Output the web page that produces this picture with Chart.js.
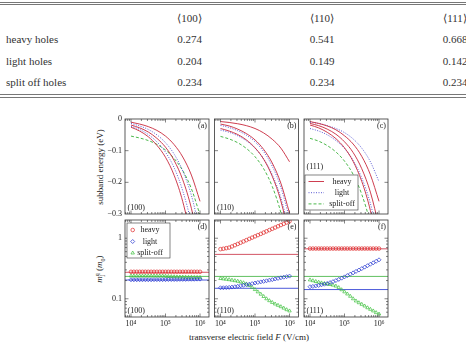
<!DOCTYPE html>
<html>
<head>
<meta charset="utf-8">
<script src="https://cdn.jsdelivr.net/npm/chart.js@4.4.1/dist/chart.umd.min.js"></script>
<style>
  html, body { margin: 0; padding: 0; background: #fff; }
  body { width: 466px; height: 344px; position: relative; overflow: hidden; font-family: "Liberation Serif", serif; color: #222; }
  canvas { position: absolute; left: 0; top: 0; }
  .rule { position: absolute; left: 0; width: 466px; height: 0; border-top: 1px solid #777; }
  .cell { position: absolute; font-size: 11px; line-height: 12px; white-space: nowrap; color: #333; }
  .mid { transform: translateX(-50%); }
  .ytitle { position: absolute; font-size: 9px; white-space: nowrap; transform: translate(-50%, -50%) rotate(-90deg); }
  .xtitle { position: absolute; font-size: 9px; white-space: nowrap; transform: translate(-50%, -50%); }
  .ss { display: inline-block; vertical-align: middle; line-height: 5px; font-size: 6px; text-align: left; }
</style>
</head>
<body>
<div id="table"></div>
<div class="ytitle" style="left:100px; top:166.5px">subband energy (eV)</div>
<div class="ytitle" style="left:100px; top:268.5px"><i>m</i><span class="ss">q<br>j</span> (<i>m</i><sub style="font-size:6px">0</sub>)</div>
<div class="xtitle" style="left:249px; top:337px">transverse electric field <i>F</i> (V/cm)</div>
<script>
// table values (effective masses)
const orientations = ['\u27E8100\u27E9', '\u27E8110\u27E9', '\u27E8111\u27E9'];
const holeTypes = ['heavy holes', 'light holes', 'split off holes'];
const massHeavy = [0.274, 0.541, 0.668];
const massLight = [0.204, 0.149, 0.142];
const massSplit = [0.234, 0.234, 0.234];

// field values (V/cm)
const fieldLine = [1e4, 1.78e4, 3.16e4, 5.62e4, 1e5, 1.78e5, 3.16e5, 5.62e5, 1e6];
const fieldMark = [1.00e4, 1.21e4, 1.47e4, 1.78e4, 2.15e4, 2.61e4, 3.16e4, 3.83e4, 4.64e4, 5.62e4, 6.81e4, 8.25e4,
                   1.00e5, 1.21e5, 1.47e5, 1.78e5, 2.15e5, 2.61e5, 3.16e5, 3.83e5, 4.64e5, 5.62e5, 6.81e5, 8.25e5, 1.00e6];

// subband energies (eV)
const heavy100 = [
  [-0.010, -0.016, -0.024, -0.036, -0.054, -0.081, -0.120, -0.177, -0.260],
  [-0.019, -0.028, -0.041, -0.061, -0.089, -0.131, -0.192, -0.282, -0.414],
  [-0.026, -0.038, -0.056, -0.083, -0.121, -0.178, -0.261, -0.384, -0.563]
];
const light100 = [
  [-0.014, -0.022, -0.033, -0.050, -0.075, -0.111, -0.164, -0.241, -0.355],
  [-0.023, -0.033, -0.049, -0.072, -0.105, -0.154, -0.227, -0.332, -0.488]
];
const split100 = [-0.054, -0.060, -0.068, -0.080, -0.098, -0.125, -0.163, -0.220, -0.303];

const heavy110 = [
  [-0.008, -0.011, -0.015, -0.021, -0.030, -0.044, -0.064, -0.092, -0.135],
  [-0.016, -0.022, -0.032, -0.046, -0.066, -0.096, -0.139, -0.203, -0.297],
  [-0.030, -0.038, -0.049, -0.066, -0.091, -0.127, -0.181, -0.259, -0.374]
];
const light110 = [
  [-0.020, -0.027, -0.037, -0.051, -0.072, -0.103, -0.149, -0.216, -0.314],
  [-0.035, -0.042, -0.053, -0.069, -0.092, -0.126, -0.176, -0.249, -0.356]
];
const split110 = [-0.055, -0.063, -0.075, -0.093, -0.119, -0.157, -0.213, -0.296, -0.417];

const heavy111 = [
  [-0.008, -0.014, -0.022, -0.034, -0.053, -0.079, -0.118, -0.176, -0.260],
  [-0.014, -0.021, -0.032, -0.048, -0.072, -0.106, -0.157, -0.231, -0.339],
  [-0.019, -0.028, -0.042, -0.062, -0.091, -0.134, -0.197, -0.289, -0.424]
];
const light111 = [
  [-0.010, -0.014, -0.021, -0.030, -0.043, -0.063, -0.092, -0.135, -0.198],
  [-0.030, -0.038, -0.050, -0.068, -0.093, -0.131, -0.186, -0.267, -0.386]
];
const split111 = [-0.061, -0.070, -0.084, -0.104, -0.133, -0.175, -0.238, -0.330, -0.464];

// field dependent masses (m0)
const mHeavy100 = [0.279, 0.279, 0.279, 0.279, 0.279, 0.279, 0.279, 0.279, 0.279, 0.279, 0.279, 0.279, 0.279,
                   0.279, 0.279, 0.279, 0.279, 0.279, 0.279, 0.279, 0.279, 0.279, 0.279, 0.279, 0.279];
const mLight100 = [0.206, 0.206, 0.206, 0.206, 0.206, 0.206, 0.206, 0.206, 0.207, 0.207, 0.207, 0.207, 0.207,
                   0.208, 0.208, 0.208, 0.208, 0.209, 0.209, 0.209, 0.210, 0.210, 0.210, 0.211, 0.211];
const mSplit100 = [0.238, 0.238, 0.238, 0.238, 0.238, 0.238, 0.238, 0.238, 0.238, 0.238, 0.238, 0.238, 0.236,
                   0.234, 0.232, 0.231, 0.230, 0.229, 0.228, 0.227, 0.226, 0.226, 0.225, 0.225, 0.225];

const mHeavy110 = [0.66, 0.67, 0.685, 0.70, 0.731, 0.767, 0.804, 0.844, 0.885, 0.929, 0.975, 1.023, 1.073,
                   1.125, 1.18, 1.239, 1.30, 1.364, 1.43, 1.50, 1.575, 1.65, 1.73, 1.82, 1.91];
const mLight110 = [0.152, 0.152, 0.153, 0.154, 0.156, 0.158, 0.161, 0.164, 0.167, 0.171, 0.174, 0.178, 0.182,
                   0.186, 0.190, 0.194, 0.198, 0.203, 0.207, 0.212, 0.217, 0.222, 0.227, 0.232, 0.237];
const mSplit110 = [0.216, 0.213, 0.210, 0.207, 0.203, 0.199, 0.195, 0.190, 0.184, 0.176, 0.166, 0.154, 0.142,
                   0.130, 0.119, 0.109, 0.100, 0.093, 0.087, 0.082, 0.078, 0.074, 0.070, 0.066, 0.063];

const mHeavy111 = [0.675, 0.675, 0.675, 0.675, 0.675, 0.675, 0.675, 0.675, 0.675, 0.675, 0.675, 0.675, 0.675,
                   0.675, 0.675, 0.675, 0.675, 0.675, 0.675, 0.675, 0.675, 0.675, 0.675, 0.675, 0.675];
const mLight111 = [0.158, 0.160, 0.163, 0.166, 0.170, 0.174, 0.179, 0.185, 0.192, 0.200, 0.209, 0.219, 0.230,
                   0.242, 0.255, 0.268, 0.283, 0.298, 0.315, 0.333, 0.352, 0.372, 0.393, 0.416, 0.440];
const mSplit111 = [0.205, 0.199, 0.193, 0.188, 0.183, 0.179, 0.175, 0.172, 0.168, 0.162, 0.153, 0.141, 0.130,
                   0.120, 0.110, 0.100, 0.092, 0.086, 0.081, 0.076, 0.071, 0.067, 0.063, 0.059, 0.056];

const panelTags = ['(a)', '(b)', '(c)', '(d)', '(e)', '(f)'];

// layout
const W = 466, H = 344;
const X_MIN = 6700, X_MAX = 1.82e6;
const COLS = [{l: 125, r: 209}, {l: 214.5, r: 298.5}, {l: 304, r: 388}];
const ROWS = [{t: 119, b: 214}, {t: 220, b: 317}];
const RED = '#c8283c', BLUE = '#4848d0', GREEN = '#38b038';
const MRED = '#e02828', MBLUE = '#2030d0', MGREEN = '#3cc03c';
const TXT = '#222';
const FONT = '"Liberation Serif", serif';

// table
function buildTable() {
  const t = document.getElementById('table');
  [1.5, 4, 94, 96.5].forEach(y => {
    const d = document.createElement('div');
    d.className = 'rule';
    d.style.top = y + 'px';
    t.appendChild(d);
  });
  const colX = [189.5, 322, 455];
  const rowY = [39.3, 61, 81.7];
  const put = (txt, x, y, center) => {
    const d = document.createElement('div');
    d.className = 'cell' + (center ? ' mid' : '');
    d.textContent = txt;
    d.style.left = x + 'px';
    d.style.top = (y - 6) + 'px';
    t.appendChild(d);
  };
  orientations.forEach((o, i) => put(o, colX[i], 18.3, true));
  const rows = [massHeavy, massLight, massSplit];
  holeTypes.forEach((h, r) => {
    put(h, 6, rowY[r], false);
    rows[r].forEach((v, i) => put(v.toFixed(3), colX[i], rowY[r], true));
  });
}
buildTable();

const isPow10 = v => Math.abs(Math.log10(v) - Math.round(Math.log10(v))) < 1e-6;
const SUP = {'-': '\u207B', '0': '\u2070', '1': '\u00B9', '2': '\u00B2', '3': '\u00B3', '4': '\u2074', '5': '\u2075', '6': '\u2076', '7': '\u2077', '8': '\u2078', '9': '\u2079'};

function logTicks(min, max) {
  const out = [];
  for (let e = Math.floor(Math.log10(min)); e <= Math.ceil(Math.log10(max)); e++) {
    for (let s = 1; s <= 9; s++) {
      const v = s * Math.pow(10, e);
      if (v > min && v < max) out.push({v, major: s === 1});
    }
  }
  return out;
}

// frame, inward ticks, tags and legends
const framePlugin = {
  id: 'frame',
  afterDraw(chart, args, o) {
    const {ctx, chartArea: a, scales} = chart;
    const xs = scales.x, ys = scales.y;
    ctx.save();
    ctx.strokeStyle = '#333';
    ctx.lineWidth = 0.6;
    ctx.beginPath();
    logTicks(xs.min, xs.max).forEach(t => {
      const p = xs.getPixelForValue(t.v);
      const len = t.major ? 3.5 : 2;
      ctx.moveTo(p, a.bottom); ctx.lineTo(p, a.bottom - len);
      ctx.moveTo(p, a.top); ctx.lineTo(p, a.top + len);
    });
    const yt = o.logY ? logTicks(ys.min, ys.max)
      : ys.ticks.map(t => ({v: t.value, major: true})).filter(t => t.v > ys.min + 1e-9 && t.v < ys.max - 1e-9);
    yt.forEach(t => {
      const p = ys.getPixelForValue(t.v);
      const len = t.major ? 3.5 : 2;
      ctx.moveTo(a.left, p); ctx.lineTo(a.left + len, p);
      ctx.moveTo(a.right, p); ctx.lineTo(a.right - len, p);
    });
    ctx.stroke();
    ctx.lineWidth = 0.8;
    ctx.strokeRect(a.left, a.top, a.right - a.left, a.bottom - a.top);

    ctx.fillStyle = TXT;
    ctx.font = '8px ' + FONT;
    ctx.textBaseline = 'middle';
    ctx.textAlign = 'right';
    ctx.fillText(o.tag, a.right - 2, a.top + 6.5);
    ctx.textAlign = 'left';
    ctx.fillText(o.plane, a.left + 2.5, o.planeY != null ? a.top + o.planeY : a.bottom - 6);

    if (o.lineLegend) {
      const bx = a.left + 1, by = a.bottom - 39, bw = 53, bh = 35;
      ctx.fillStyle = '#fff';
      ctx.fillRect(bx, by, bw, bh);
      ctx.strokeStyle = '#333';
      ctx.lineWidth = 0.6;
      ctx.strokeRect(bx, by, bw, bh);
      const items = [['heavy', RED, []], ['light', BLUE, [1, 1.5]], ['split-off', GREEN, [3, 2]]];
      items.forEach((it, i) => {
        const y = by + 6.5 + i * 11.2;
        ctx.strokeStyle = it[1];
        ctx.lineWidth = 0.9;
        ctx.setLineDash(it[2]);
        ctx.beginPath();
        ctx.moveTo(bx + 3.5, y); ctx.lineTo(bx + 19, y);
        ctx.stroke();
        ctx.setLineDash([]);
        ctx.fillStyle = TXT;
        ctx.textAlign = 'center';
        ctx.fillText(it[0], bx + 37, y);
      });
    }
    if (o.markLegend) {
      const bx = a.left + 2, by = a.top + 3, bw = 43, bh = 35;
      ctx.fillStyle = '#fff';
      ctx.fillRect(bx, by, bw, bh);
      ctx.strokeStyle = '#333';
      ctx.lineWidth = 0.6;
      ctx.strokeRect(bx, by, bw, bh);
      const items = [['heavy', MRED, 'circle', 1.8], ['light', MBLUE, 'rectRot', 2], ['split-off', MGREEN, 'triangle', 2]];
      items.forEach((it, i) => {
        const y = by + 7 + i * 11.5;
        ctx.strokeStyle = it[1];
        ctx.fillStyle = 'rgba(0,0,0,0)';
        ctx.lineWidth = 0.7;
        Chart.helpers.drawPoint(ctx, {pointStyle: it[2], radius: it[3], rotation: 0, borderWidth: 0.7}, bx + 5.7, y);
        ctx.fillStyle = TXT;
        ctx.textAlign = 'center';
        ctx.fillText(it[0], bx + 23, y);
      });
    }
    ctx.restore();
  }
};

function curveSets(heavy, light, split) {
  const pts = vals => fieldLine.map((f, i) => ({x: f, y: vals[i]}));
  const base = {showLine: true, pointRadius: 0, borderWidth: 0.9, cubicInterpolationMode: 'monotone', fill: false};
  const sets = [];
  heavy.forEach(v => sets.push(Object.assign({}, base, {data: pts(v), borderColor: RED})));
  light.forEach(v => sets.push(Object.assign({}, base, {data: pts(v), borderColor: BLUE, borderDash: [1, 1.5]})));
  sets.push(Object.assign({}, base, {data: pts(split), borderColor: GREEN, borderDash: [3, 2]}));
  return sets;
}

function massSets(k, mh, ml, ms) {
  const level = (m, c) => ({data: [{x: X_MIN, y: m}, {x: X_MAX, y: m}], showLine: true, pointRadius: 0,
                            borderColor: c, borderWidth: 0.8, order: 2});
  const marks = (vals, c, style, r) => ({data: fieldMark.map((f, i) => ({x: f, y: vals[i]})), showLine: false,
                            pointStyle: style, pointRadius: r, borderColor: c, backgroundColor: 'rgba(0,0,0,0)',
                            borderWidth: 0.7, order: 1});
  return [
    level(massHeavy[k], RED), level(massSplit[k], GREEN), level(massLight[k], MBLUE),
    marks(mh, MRED, 'circle', 1.8), marks(ml, MBLUE, 'rectRot', 2), marks(ms, MGREEN, 'triangle', 2)
  ];
}

function makePanel(col, row, datasets, extra) {
  const c = COLS[col], r = ROWS[row];
  const yW = col === 0 ? 25 : 0;
  const xH = row === 1 ? 15 : 0;
  const cv = document.createElement('canvas');
  cv.width = W; cv.height = H;
  document.body.appendChild(cv);
  const tickFont = {family: FONT, size: 8};
  const yScale = row === 0
    ? {type: 'linear', min: -0.3, max: 0, ticks: {stepSize: 0.1,
        callback: v => Math.abs(v) < 1e-9 ? '0' : '\u2212' + Math.abs(v).toFixed(1)}}
    : {type: 'logarithmic', min: 0.05, max: 2, ticks: {
        callback: v => (Math.abs(v - 1) < 1e-9 ? '1' : Math.abs(v - 0.1) < 1e-9 ? '0.1' : '')}};
  Object.assign(yScale.ticks, {display: col === 0, font: tickFont, color: TXT, padding: 3, autoSkip: false});
  Object.assign(yScale, {grid: {display: false, drawTicks: false}, border: {display: false},
                         afterFit: s => { s.width = yW; }});
  new Chart(cv, {
    type: 'scatter',
    data: {datasets},
    options: {
      responsive: false,
      animation: false,
      events: [],
      devicePixelRatio: 1,
      layout: {padding: {left: c.l - yW, top: r.t, right: W - c.r, bottom: H - r.b - xH}},
      scales: {
        x: {type: 'logarithmic', min: X_MIN, max: X_MAX,
            grid: {display: false, drawTicks: false}, border: {display: false},
            afterFit: s => { s.height = xH; },
            ticks: {display: row === 1, autoSkip: false, maxRotation: 0, padding: 2, font: tickFont, color: TXT,
                    callback: v => isPow10(v) ? '10' + String(Math.round(Math.log10(v))).split('').map(ch => SUP[ch]).join('') : ''}},
        y: yScale
      },
      plugins: {
        legend: {display: false},
        tooltip: {enabled: false},
        frame: Object.assign({tag: panelTags[row * 3 + col], logY: row === 1}, extra)
      }
    },
    plugins: [framePlugin]
  });
}

makePanel(0, 0, curveSets(heavy100, light100, split100), {plane: '(100)'});
makePanel(1, 0, curveSets(heavy110, light110, split110), {plane: '(110)'});
makePanel(2, 0, curveSets(heavy111, light111, split111), {plane: '(111)', planeY: 48, lineLegend: true});
makePanel(0, 1, massSets(0, mHeavy100, mLight100, mSplit100), {plane: '(100)', markLegend: true});
makePanel(1, 1, massSets(1, mHeavy110, mLight110, mSplit110), {plane: '(110)'});
makePanel(2, 1, massSets(2, mHeavy111, mLight111, mSplit111), {plane: '(111)'});
</script>
</body>
</html>
